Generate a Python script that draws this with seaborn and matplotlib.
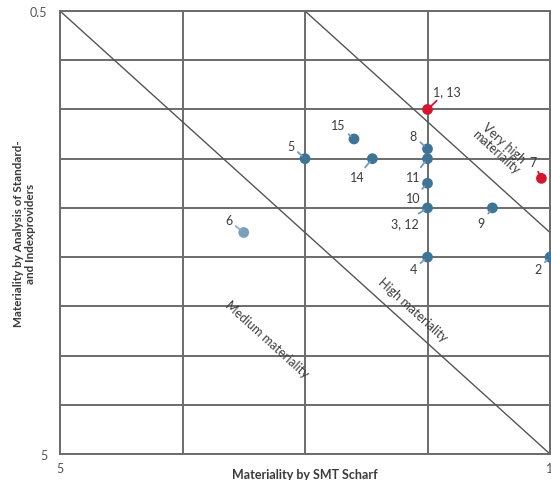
import numpy as np
import pandas as pd
import matplotlib
matplotlib.use("Agg")
import matplotlib.pyplot as plt
import seaborn as sns

# data
labels = ["1, 13", "2", "3, 12", "4", "5", "6", "7", "8", "9", "10", "11", "14", "15"]
x_smt = [2.0, 1.0, 2.0, 2.0, 3.0, 3.5, 1.07, 2.0, 1.47, 2.0, 2.0, 2.45, 2.6]
y_std = [1.5, 3.0, 2.5, 3.0, 2.0, 2.75, 2.2, 1.9, 2.5, 2.25, 2.0, 2.0, 1.8]
group = ["very high", "high", "high", "high", "high", "medium", "very high",
         "high", "high", "high", "high", "high", "high"]
# label offsets in pixels (dx, dy) from the dot
label_dx = [19, -12, -23, -14, -14, -15, -8, -14, -11, -14, -14, -15, -16]
label_dy = [-18, 12, 15, 12, -13, -12, -16, -13, 15, 15, 18, 18, -14]

x_ticks = [5, 4, 3, 2, 1]
y_ticks = [0.5, 1.0, 1.5, 2.0, 2.5, 3.0, 3.5, 4.0, 4.5, 5.0]
x_ticklabels = ["5", "", "", "", "1"]
y_ticklabels = ["0.5", "", "", "", "", "", "", "", "", "5"]

# boundary lines: (x0, y0) -> (x1, y1)
boundaries = [((5, 0.5), (1, 5.0)), ((3, 0.5), (1, 2.75))]

df = pd.DataFrame({"label": labels, "x": x_smt, "y": y_std, "group": group})

palette = {"very high": "#d5162e", "high": "#3f7496", "medium": "#789fbb"}
leader = {"very high": "#d5162e", "high": "#6f9bbb", "medium": "#8fb0c8"}
text_col = "#3c3c3c"
grid_col = "#6b6b6b"

sns.set_style("white")
plt.rcParams["font.family"] = ["Lato", "DejaVu Sans"]

fig = plt.figure(figsize=(5.51, 4.81), dpi=100)
ax = fig.add_axes([60 / 551, 1 - 455 / 481, 490 / 551, 443 / 481])

ax.set_xlim(5, 1)
ax.set_ylim(5, 0.5)
ax.set_xticks(x_ticks)
ax.set_yticks(y_ticks)
ax.set_xticklabels(x_ticklabels)
ax.set_yticklabels(y_ticklabels)
ax.grid(True, color=grid_col, linewidth=1.4)
ax.set_axisbelow(True)
for s in ax.spines.values():
    s.set_color(grid_col)
    s.set_linewidth(1.4)
ax.tick_params(length=0, labelsize=9, labelcolor="#555555")
ax.tick_params(axis="x", pad=6)
ax.tick_params(axis="y", pad=9)

for (x0, y0), (x1, y1) in boundaries:
    ax.plot([x0, x1], [y0, y1], color="#555555", linewidth=1.0, zorder=2)

sns.scatterplot(data=df, x="x", y="y", hue="group", palette=palette, s=60,
                edgecolor="none", legend=False, ax=ax, zorder=4, clip_on=False)

for i, row in df.iterrows():
    ax.annotate(row["label"], (row["x"], row["y"]),
                xytext=(label_dx[i] * 0.72, -label_dy[i] * 0.72),
                textcoords="offset points", ha="center", va="center",
                fontsize=9, color=text_col, zorder=5,
                arrowprops=dict(arrowstyle="-", color=leader[row["group"]],
                                lw=1.3, shrinkA=0, shrinkB=3))

# zone labels, rotated along the boundaries
ang = -np.degrees(np.arctan(443 / 490))
ax.text(1.41, 1.88, "Very high\nmateriality", rotation=ang, ha="center",
        va="center", fontsize=9, color=text_col, rotation_mode="anchor",
        linespacing=1.0)
ax.text(2.12, 3.53, "High materiality", rotation=ang, ha="center",
        va="center", fontsize=9, color=text_col, rotation_mode="anchor")
ax.text(3.31, 3.83, "Medium materiality", rotation=ang, ha="center",
        va="center", fontsize=9, color=text_col, rotation_mode="anchor")

ax.set_xlabel("Materiality by SMT Scharf", fontsize=9, fontweight="bold",
              color="#3a3a3a")
ax.xaxis.set_label_coords(0.5, -0.031)
ax.set_ylabel("Materiality by Analysis of Standard-\nand Indexproviders",
              fontsize=8.4, fontweight="bold", color="#3a3a3a", linespacing=1.1)
ax.yaxis.set_label_coords(-0.05, 0.5)

fig.savefig("out.png", dpi=100)
